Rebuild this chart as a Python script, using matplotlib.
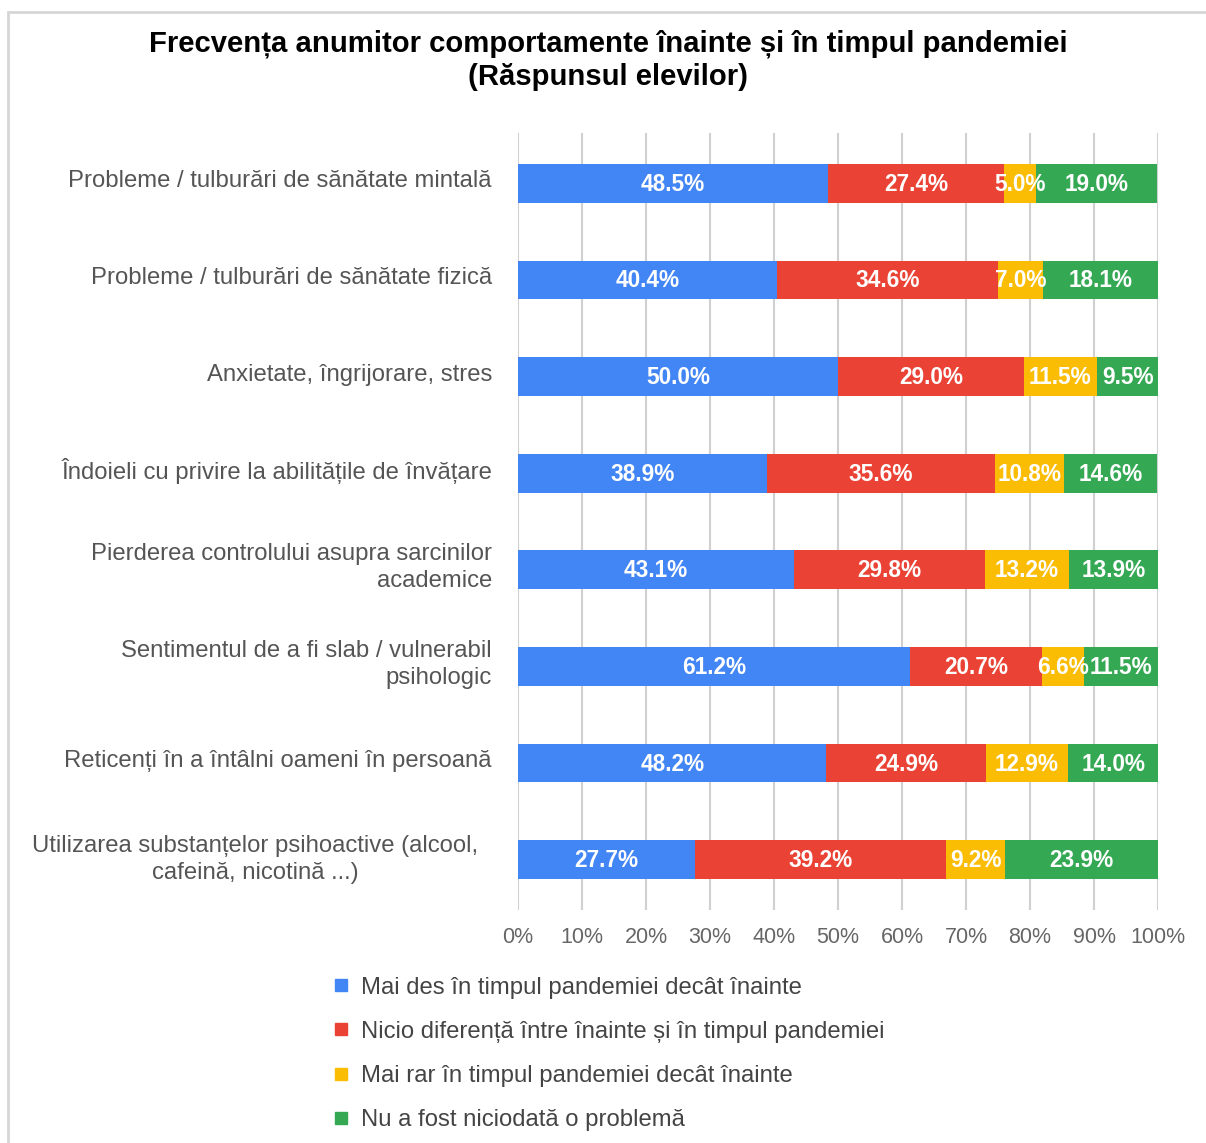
import matplotlib
matplotlib.use("Agg")
import matplotlib.pyplot as plt
from matplotlib.patches import Rectangle
from matplotlib.lines import Line2D
import numpy as np

plt.rcParams['font.family'] = ['Liberation Sans', 'DejaVu Sans']

categories = [
    "Probleme / tulburări de sănătate mintală",
    "Probleme / tulburări de sănătate fizică",
    "Anxietate, îngrijorare, stres",
    "Îndoieli cu privire la abilitățile de învățare",
    "Pierderea controlului asupra sarcinilor\nacademice",
    "Sentimentul de a fi slab / vulnerabil\npsihologic",
    "Reticenți în a întâlni oameni în persoană",
    "Utilizarea substanțelor psihoactive (alcool,\ncafeină, nicotină ...)",
]
series_names = [
    "Mai des în timpul pandemiei decât înainte",
    "Nicio diferență între înainte și în timpul pandemiei",
    "Mai rar în timpul pandemiei decât înainte",
    "Nu a fost niciodată o problemă",
]
mai_des = [48.5, 40.4, 50.0, 38.9, 43.1, 61.2, 48.2, 27.7]
nicio = [27.4, 34.6, 29.0, 35.6, 29.8, 20.7, 24.9, 39.2]
mai_rar = [5.0, 7.0, 11.5, 10.8, 13.2, 6.6, 12.9, 9.2]
niciodata = [19.0, 18.1, 9.5, 14.6, 13.9, 11.5, 14.0, 23.9]
xticks = [0, 10, 20, 30, 40, 50, 60, 70, 80, 90, 100]
colors = ["#4285F4", "#EA4335", "#FBBC04", "#34A853"]

W, H = 1206, 1143
fig = plt.figure(figsize=(W / 100, H / 100), dpi=100)
ax = fig.add_axes([518 / W, 1 - 910 / H, 640 / W, (910 - 133) / H])

y = np.arange(len(categories))
left = np.zeros(len(categories))
for vals, col, name in zip([mai_des, nicio, mai_rar, niciodata], colors, series_names):
    vals = np.array(vals)
    bars = ax.barh(y, vals, left=left, height=0.4, color=col, label=name, zorder=3)
    for b, v in zip(bars, vals):
        ax.text(b.get_x() + b.get_width() / 2, b.get_y() + b.get_height() / 2 + 0.01,
                f"{v:.1f}%", ha='center', va='center', color='white',
                fontsize=16.3, fontweight='bold', zorder=4)
    left += vals

ax.set_xlim(0, 100)
ax.set_ylim(len(categories) - 0.48, -0.52)
ax.set_xticks(xticks)
ax.set_xticklabels([f"{t}%" for t in xticks], fontsize=15.5, color="#666666")
ax.tick_params(axis='x', length=0, pad=12)
ax.set_yticks([])
ax.grid(axis='x', color='#d0d0d0', linewidth=1.5, zorder=0)
for s in ax.spines.values():
    s.set_visible(False)

for i, cat in enumerate(categories):
    if i == len(categories) - 1:
        ax.text(-(518 - 478) / 640, i, cat, transform=ax.get_yaxis_transform(),
                ha='right', va='center', multialignment='center',
                fontsize=17.2, color='#555555', linespacing=1.3)
    else:
        ax.text(-(518 - 492) / 640, i - 0.02, cat, transform=ax.get_yaxis_transform(),
                ha='right', va='center', multialignment='right',
                fontsize=17.2, color='#555555', linespacing=1.3)

fig.text(608 / W, 1 - 60 / H, "Frecvența anumitor comportamente înainte și în timpul pandemiei\n(Răspunsul elevilor)",
         ha='center', va='center', fontsize=21.1, fontweight='bold', color='black', linespacing=1.24)

# legend
handles = [Line2D([0], [0], marker='s', linestyle='none', markersize=9,
                  markerfacecolor=c, markeredgecolor=c) for c in colors]
leg = fig.legend(handles, series_names, loc='upper left',
                 bbox_to_anchor=(322 / W, 1 - 967 / H), frameon=False,
                 fontsize=17.2, labelspacing=0.93, handlelength=0.8,
                 handletextpad=0.45, borderaxespad=0)
for t in leg.get_texts():
    t.set_color('#444444')

# border of chart area
fig.patches.append(Rectangle((8 / W, -0.1), 1.2, 1 - 12 / H + 0.1, transform=fig.transFigure,
                             fill=False, edgecolor='#d6d6d6', linewidth=2))

fig.savefig("out.png", dpi=100)
